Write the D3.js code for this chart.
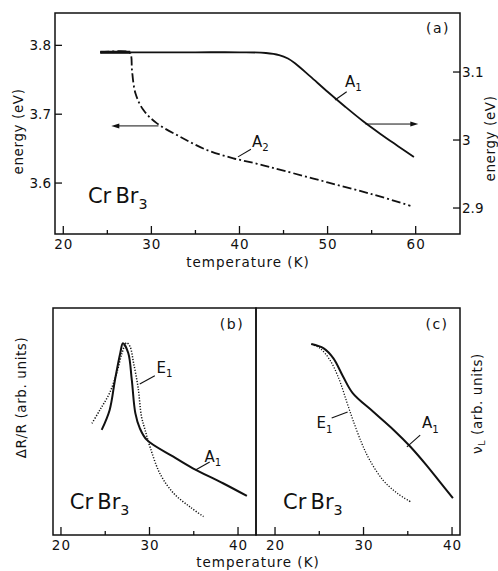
<!DOCTYPE html>
<html><head><meta charset="utf-8">
<script src="https://cdn.jsdelivr.net/npm/d3@7"></script>
<style>
body{margin:0;background:#fff;}
svg{display:block;}
text{font-family:"DejaVu Sans",sans-serif;fill:#111;}
</style></head>
<body>
<script>
// ---------- DATA ----------
// Panel (a): A1 (right axis, eV), A2 (left axis, eV)
const tempA1a   = [24.2, 30, 35, 40, 43, 44.5, 45.5, 46.3, 48, 50, 52, 54, 56, 58, 59.8];
const energyA1a = [3.129, 3.129, 3.129, 3.129, 3.128, 3.125, 3.120, 3.113, 3.094, 3.071, 3.049, 3.028, 3.009, 2.991, 2.975];
const tempA2a   = [24.2, 27.5, 27.7, 27.8, 28.2, 29.1, 30.6, 33.3, 36.3, 39.3, 42, 45, 50, 55, 59.4];
const energyA2a = [3.790, 3.790, 3.785, 3.764, 3.730, 3.706, 3.687, 3.667, 3.648, 3.636, 3.628, 3.618, 3.601, 3.584, 3.567];
const xTicksA = [20, 30, 40, 50, 60];
const xMinorA = [25, 35, 45, 55];
const yTicksLeftA  = [3.8, 3.7, 3.6];
const yTicksRightA = [3.1, 3.0, 2.9];
const yTickRightLabels = ["3.1", "3", "2.9"];

// Panel (b): ΔR/R (arb. units)
const tempA1b = [24.6, 25.5, 26.1, 26.7, 27.0, 27.6, 28.0, 28.4, 28.9, 29.7, 32.7, 34.9, 38.3, 41.0];
const valA1b  = [46.3, 55.1, 68.3, 80.2, 84.5, 80.2, 68.3, 53.7, 47.1, 41.9, 34.5, 29.4, 22.8, 17.2];
const tempE1b = [23.5, 24.4, 25.5, 26.3, 26.9, 27.4, 27.8, 28.2, 28.7, 29.1, 29.5, 30.1, 31.2, 32.7, 34.6, 36.1];
const valE1b  = [49.2, 55.1, 62.6, 71.4, 80.2, 84.7, 83.0, 75.8, 65.3, 52.1, 46.3, 38.3, 26.9, 18.5, 12.3, 8.1];

// Panel (c): ν_L (arb. units)
const tempA1c = [24.1, 25.5, 26.6, 27.7, 28.8, 31.1, 33.4, 35.3, 37.1, 38.6, 40.1];
const valA1c  = [84.1, 82.2, 77.8, 69.7, 62.4, 54.3, 46.3, 38.9, 30.8, 23.5, 16.2];
const tempE1c = [24.1, 25.1, 26.2, 27.2, 28.1, 28.8, 29.8, 30.7, 32.2, 33.8, 35.3];
const valE1c  = [84.1, 82.2, 77.1, 69.0, 58.7, 50.7, 40.4, 33.0, 24.2, 18.4, 14.7];

const xTicksBC = [20, 30, 40];
const xMinorBC = [25, 35];

// ---------- SETUP ----------
const svg = d3.select("body").append("svg").attr("width", 498).attr("height", 571);
const ink = "#111";

function zip(a, b){ return a.map((v,i)=>[v, b[i]]); }

function frame(x0, x1, y0, y1){
  svg.append("rect").attr("x", x0).attr("y", y0).attr("width", x1-x0).attr("height", y1-y0)
    .attr("fill","none").attr("stroke", ink).attr("stroke-width", 1.5);
}
function xAxisTicks(x, y1, major, minor){
  const g = svg.append("g");
  g.selectAll(".maj").data(major).join("line")
    .attr("x1", d=>x(d)).attr("x2", d=>x(d)).attr("y1", y1).attr("y2", y1-8)
    .attr("stroke", ink).attr("stroke-width", 1.3);
  g.selectAll(".min").data(minor).join("line")
    .attr("x1", d=>x(d)).attr("x2", d=>x(d)).attr("y1", y1).attr("y2", y1-4)
    .attr("stroke", ink).attr("stroke-width", 1.3);
  g.selectAll("text").data(major).join("text")
    .attr("x", d=>x(d)+0.5).attr("y", y1+15).attr("text-anchor","middle")
    .attr("font-size", 13.5).attr("letter-spacing", 1).text(d=>d);
}
function curve(x, y, pts, opts){
  const line = d3.line().x(d=>x(d[0])).y(d=>y(d[1])).curve(d3.curveCatmullRom.alpha(0.5));
  svg.append("path").attr("d", line(pts)).attr("fill","none").attr("stroke", ink)
    .attr("stroke-width", opts.w).attr("stroke-dasharray", opts.dash || null)
    .attr("stroke-linecap", opts.cap || "butt");
}
function label(x, y, main, sub, size){
  const t = svg.append("text").attr("x", x).attr("y", y).attr("font-size", size);
  t.append("tspan").text(main);
  if (sub) t.append("tspan").attr("font-size", size*0.68).attr("dy", size*0.28).text(sub);
  return t;
}
function formula(x, y, size){
  const t = svg.append("text").attr("x", x).attr("y", y).attr("font-size", size);
  t.append("tspan").text("Cr");
  t.append("tspan").attr("dx", size*0.2).text("Br");
  t.append("tspan").attr("font-size", size*0.68).attr("dy", size*0.28).text("3");
}
function leader(x1,y1,x2,y2){
  svg.append("line").attr("x1",x1).attr("y1",y1).attr("x2",x2).attr("y2",y2)
    .attr("stroke", ink).attr("stroke-width", 1.1);
}
function arrow(x1, x2, y){
  svg.append("line").attr("x1", x1).attr("x2", x2 - Math.sign(x2-x1)*6).attr("y1", y).attr("y2", y)
    .attr("stroke", ink).attr("stroke-width", 1);
  const s = Math.sign(x2-x1);
  svg.append("path").attr("d", `M${x2},${y} L${x2-s*8},${y-2.5} L${x2-s*8},${y+2.5} Z`).attr("fill", ink);
}

// ---------- PANEL (a) ----------
const A = {l:55, r:460, t:13, b:234};
const xA  = d3.scaleLinear().domain([19.06, 65.03]).range([A.l, A.r]);
const yAL = d3.scaleLinear().domain([3.526, 3.847]).range([A.b, A.t]);
const yAR = d3.scaleLinear().domain([2.8618, 3.1868]).range([A.b, A.t]);

frame(A.l, A.r, A.t, A.b);
xAxisTicks(xA, A.b, xTicksA, xMinorA);
svg.selectAll(".ylt").data(yTicksLeftA).join("line")
  .attr("x1", A.l).attr("x2", A.l+7).attr("y1", d=>yAL(d)).attr("y2", d=>yAL(d))
  .attr("stroke", ink).attr("stroke-width", 1.3);
svg.selectAll(".yltx").data(yTicksLeftA).join("text")
  .attr("x", A.l-4).attr("y", d=>yAL(d)+5).attr("text-anchor","end")
  .attr("font-size", 13.5).text(d=>d.toFixed(1));
svg.selectAll(".yrt").data(yTicksRightA).join("line")
  .attr("x1", A.r).attr("x2", A.r-7).attr("y1", d=>yAR(d)).attr("y2", d=>yAR(d))
  .attr("stroke", ink).attr("stroke-width", 1.3);
svg.selectAll(".yrtx").data(yTicksRightA).join("text")
  .attr("x", A.r+2).attr("y", d=>yAR(d)+5).attr("text-anchor","start")
  .attr("font-size", 13.5).text((d,i)=>yTickRightLabels[i]);

svg.append("text").attr("transform", `translate(23,${(A.t+A.b)/2+8}) rotate(-90)`)
  .attr("text-anchor","middle").attr("font-size", 13.5).attr("letter-spacing", 0.6).text("energy (eV)");
svg.append("text").attr("transform", `translate(495,${(A.t+A.b)/2+15}) rotate(-90)`)
  .attr("text-anchor","middle").attr("font-size", 13.5).attr("letter-spacing", 0.6).text("energy (eV)");
svg.append("text").attr("x", 248).attr("y", 267).attr("text-anchor","middle")
  .attr("font-size", 13.5).attr("letter-spacing", 1).text("temperature  (K)");

curve(xA, yAR, zip(tempA1a, energyA1a), {w:1.8});
curve(xA, yAL, zip(tempA2a, energyA2a), {w:1.8, dash:"9,3,2,3"});
svg.append("line").attr("x1", xA(24.2)).attr("x2", xA(27.6)).attr("y1", yAL(3.790)).attr("y2", yAL(3.790))
  .attr("stroke", ink).attr("stroke-width", 3);

arrow(xA(30.8), xA(25.45), yAL(3.683));
arrow(xA(54.3), xA(60.3), yAR(3.0235));

label(xA(51.97), yAR(3.078), "A", "1", 15);
leader(xA(50.84), yAR(3.0588), xA(52.17), yAR(3.071));
label(xA(41.42), yAL(3.652), "A", "2", 15);
leader(xA(39.83), yAL(3.638), xA(41.3), yAL(3.649));
svg.append("text").attr("x", 438).attr("y", 33).attr("text-anchor","middle").attr("font-size", 14).attr("letter-spacing", 1.5).text("(a)");
formula(xA(22.8), yAL(3.571), 21);

// ---------- PANEL (b) ----------
const B = {l:53, r:256, t:308, b:535};
const xB = d3.scaleLinear().domain([19.1, 42.03]).range([B.l, B.r]);
const yB = d3.scaleLinear().domain([0, 100]).range([B.b, B.t]);
// ---------- PANEL (c) ----------
const C = {l:256, r:460, t:308, b:535};
const xC = d3.scaleLinear().domain([17.85, 40.9]).range([C.l, C.r]);
const yC = d3.scaleLinear().domain([0, 100]).range([C.b, C.t]);

frame(B.l, B.r, B.t, B.b);
frame(C.l, C.r, C.t, C.b);
xAxisTicks(xB, B.b, xTicksBC, xMinorBC);
xAxisTicks(xC, C.b, xTicksBC, xMinorBC);

curve(xB, yB, zip(tempE1b, valE1b), {w:1.5, dash:"1.2,1.6"});
curve(xB, yB, zip(tempA1b, valA1b), {w:2});
curve(xC, yC, zip(tempE1c, valE1c), {w:1.3, dash:"1.2,1.6"});
curve(xC, yC, zip(tempA1c, valA1c), {w:2});

svg.append("text").attr("transform", `translate(26,${(B.t+B.b)/2-24}) rotate(-90)`)
  .attr("text-anchor","middle").attr("font-size", 13.5).attr("letter-spacing", 0.6).text("ΔR/R (arb. units)");
const vt = svg.append("text").attr("transform", `translate(482,${(C.t+C.b)/2-18}) rotate(-90)`)
  .attr("text-anchor","middle").attr("font-size", 13.5).attr("letter-spacing", 0.6);
vt.append("tspan").text("ν");
vt.append("tspan").attr("font-size", 9.5).attr("dy", 3).text("L");
vt.append("tspan").attr("dy", -3).text(" (arb. units)");
svg.append("text").attr("x", 258).attr("y", 567).attr("text-anchor","middle")
  .attr("font-size", 13.5).attr("letter-spacing", 1).text("temperature (K)");

svg.append("text").attr("x", 232).attr("y", 329).attr("text-anchor","middle").attr("font-size", 14).attr("letter-spacing", 1.5).text("(b)");
svg.append("text").attr("x", 437).attr("y", 329).attr("text-anchor","middle").attr("font-size", 14).attr("letter-spacing", 1.5).text("(c)");

label(xB(30.8), yB(71.4), "E", "1", 15);
leader(xB(28.9), yB(66.5), xB(30.6), yB(70.2));
label(xB(36.2), yB(32.2), "A", "1", 15);
leader(xB(35.2), yB(28.6), xB(36.8), yB(32.2));
formula(xB(21.0), yB(11.5), 21);

label(xC(24.7), yC(47.0), "E", "1", 15);
leader(xC(26.4), yC(51.5), xC(28.2), yC(54.2));
label(xC(36.6), yC(47.0), "A", "1", 15);
leader(xC(34.9), yC(38.8), xC(36.4), yC(44.0));
formula(xC(20.9), yC(11.5), 21);
</script>
</body></html>
